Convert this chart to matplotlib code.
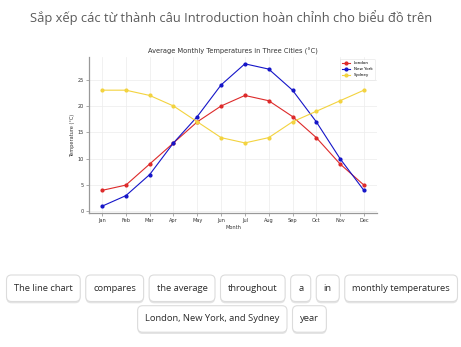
import matplotlib
matplotlib.use("Agg")
import matplotlib.pyplot as plt
from matplotlib.patches import FancyBboxPatch

# ---- data ----
months = ["Jan", "Feb", "Mar", "Apr", "May", "Jun",
          "Jul", "Aug", "Sep", "Oct", "Nov", "Dec"]
london = [4, 5, 9, 13, 17, 20, 22, 21, 18, 14, 9, 5]
new_york = [1, 3, 7, 13, 18, 24, 28, 27, 23, 17, 10, 4]
sydney = [23, 23, 22, 20, 17, 14, 13, 14, 17, 19, 21, 23]

header = "Sắp xếp các từ thành câu Introduction hoàn chỉnh cho biểu đồ trên"
chart_title = "Average Monthly Temperatures in Three Cities (°C)"
word_rows = [
    ["The line chart", "compares", "the average", "throughout", "a", "in",
     "monthly temperatures"],
    ["London, New York, and Sydney", "year"],
]

W, H = 461, 347
fig = plt.figure(figsize=(W / 100, H / 100), dpi=100)
fig.patch.set_facecolor("white")

# overlay in pixel coordinates for the page elements
ov = fig.add_axes([0, 0, 1, 1], zorder=0)
ov.set_xlim(0, W)
ov.set_ylim(H, 0)
ov.axis("off")

ov.text(W / 2 + 1, 18, header, ha="center", va="center", fontsize=9.3,
        family="Open Sans", color="#5a5a5a")

# ---- chart ----
ax = fig.add_axes([89 / W, 1 - 213.3 / H, (377 - 89) / W, (213.3 - 56.7) / H],
                  zorder=1)
x = range(len(months))
ax.plot(x, london, color="#dd2a2a", marker="o", ms=2, lw=0.8, label="London")
ax.plot(x, new_york, color="#1515c8", marker="o", ms=2, lw=0.8, label="New York")
ax.plot(x, sydney, color="#f3d33f", marker="o", ms=2, lw=0.8, label="Sydney")
ax.set_xticks(list(x))
ax.set_xticklabels(months)
ax.set_yticks([0, 5, 10, 15, 20, 25])
ax.tick_params(labelsize=3.6, length=2, width=0.5, color="#888888",
               labelcolor="#333333", pad=1.5)
ax.set_title(chart_title, fontsize=4.8, color="#333333", pad=2)
ax.set_xlabel("Month", fontsize=3.6, color="#333333", labelpad=1)
ax.set_ylabel("Temperature (°C)", fontsize=3.6, color="#333333", labelpad=2)
ax.grid(True, color="#ececec", lw=0.5)
ax.set_axisbelow(True)
for s in ("top", "right"):
    ax.spines[s].set_visible(False)
for s in ("left", "bottom"):
    ax.spines[s].set_color("#999999")
    ax.spines[s].set_linewidth(0.9)
leg = ax.legend(loc="upper right", fontsize=3.0, frameon=True, handlelength=2,
                borderpad=0.6, labelspacing=0.5)
leg.get_frame().set_linewidth(0.4)
leg.get_frame().set_edgecolor("#dddddd")

# ---- word buttons ----
renderer = fig.canvas.get_renderer()
pad_x, gap = 7.5, 5.5
row_tops = [275, 305.7]
btn_h = 26.5
for row, top in zip(word_rows, row_tops):
    texts = []
    widths = []
    for w in row:
        t = ov.text(0, 0, w, fontsize=6.75, family="Open Sans", color="#2b2b2b",
                    ha="center", va="center")
        widths.append(t.get_window_extent(renderer).width + 2 * pad_x)
        texts.append(t)
    total = sum(widths) + gap * (len(row) - 1)
    left = W / 2 + 1.5 - total / 2
    for t, bw in zip(texts, widths):
        shadow = FancyBboxPatch((left, top + 1.8), bw, btn_h,
                                boxstyle="round,pad=0,rounding_size=5",
                                fc="#e4e4e4", ec="none")
        box = FancyBboxPatch((left, top), bw, btn_h,
                             boxstyle="round,pad=0,rounding_size=5",
                             fc="white", ec="#dcdcdc", lw=0.8)
        ov.add_patch(shadow)
        ov.add_patch(box)
        t.set_position((left + bw / 2, top + btn_h / 2))
        t.set_zorder(3)
        left += bw + gap

fig.savefig("out.png", dpi=100, facecolor="white")
